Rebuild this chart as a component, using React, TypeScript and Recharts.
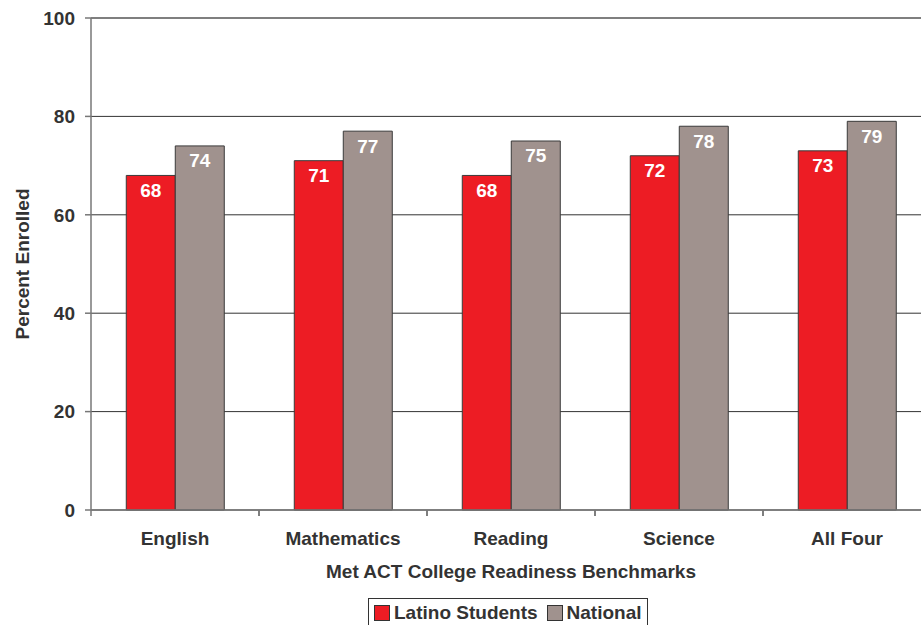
import React from 'react';
import { BarChart, Bar, XAxis, YAxis, CartesianGrid, Legend, LabelList, ReferenceLine } from 'recharts';

const categories = ['English', 'Mathematics', 'Reading', 'Science', 'All Four'];
const latinoValues = [68, 71, 68, 72, 73];
const nationalValues = [74, 77, 75, 78, 79];
const yTicks = [0, 20, 40, 60, 80, 100];

const RED = '#ED1C24';
const GRAY = '#A0928E';
const TEXT = '#333333';
const FONT = '"Liberation Sans", Arial, Helvetica, sans-serif';
const FS = 19;

const data = categories.map((name, i) => ({
  name,
  latino: latinoValues[i],
  national: nationalValues[i],
}));

// category label plus small tick marks at the band edges
const CategoryTick = (props: any) => {
  const { x, y, payload, width, visibleTicksCount } = props;
  const half = width && visibleTicksCount ? width / visibleTicksCount / 2 : 84;
  return (
    <g>
      <line x1={x - half} x2={x - half} y1={y - 8} y2={y - 2} stroke="#777" strokeWidth={1.5} />
      <line x1={x + half} x2={x + half} y1={y - 8} y2={y - 2} stroke="#777" strokeWidth={1.5} />
      <text x={x} y={y + 27} textAnchor="middle" fill={TEXT} fontSize={FS} fontWeight="bold" fontFamily={FONT}>
        {payload.value}
      </text>
    </g>
  );
};

const LegendBox = () => (
  <div
    style={{
      display: 'flex',
      alignItems: 'center',
      height: 27,
      padding: '0 5px',
      borderTop: '1px solid #333',
      borderLeft: '1px solid #333',
      borderRight: '1px solid #333',
      fontFamily: FONT,
      fontWeight: 'bold',
      fontSize: FS,
      color: TEXT,
      boxSizing: 'border-box',
      paddingTop: 2,
    }}
  >
    <span style={{ width: 14, height: 14, background: RED, border: '1px solid #333', marginRight: 4, display: 'inline-block' }} />
    <span style={{ marginRight: 9 }}>Latino Students</span>
    <span style={{ width: 14, height: 14, background: GRAY, border: '1px solid #333', marginRight: 4, display: 'inline-block' }} />
    <span>National</span>
  </div>
);

export default function App() {
  return (
    <div style={{ position: 'absolute', left: 0, top: 0, width: 921, height: 625, background: '#fff', overflow: 'hidden' }}>
      <BarChart
        width={921}
        height={625}
        data={data}
        margin={{ top: 18, right: -10, left: 0, bottom: 0 }}
        barCategoryGap="21%"
        barGap={0}
      >
        <CartesianGrid vertical={false} stroke="#333" strokeWidth={1} />
        <ReferenceLine y={100} stroke="#777" strokeWidth={1.5} />
        <XAxis
          dataKey="name"
          tick={<CategoryTick />}
          tickLine={false}
          tickSize={6}
          tickMargin={2}
          axisLine={{ stroke: '#777', strokeWidth: 1.5 }}
          height={88}
          interval={0}
          label={{
            value: 'Met ACT College Readiness Benchmarks',
            position: 'insideBottom',
            offset: 20,
            fill: TEXT,
            fontSize: FS,
            fontWeight: 'bold',
            fontFamily: FONT,
          }}
        />
        <YAxis
          domain={[0, 100]}
          ticks={yTicks}
          width={91}
          tickSize={6}
          tickMargin={10}
          tickLine={{ stroke: '#777', strokeWidth: 1.5 }}
          axisLine={{ stroke: '#777', strokeWidth: 1.5 }}
          tick={{ fill: TEXT, fontSize: FS, fontWeight: 'bold', fontFamily: FONT }}
          label={{
            value: 'Percent Enrolled',
            angle: -90,
            position: 'insideLeft',
            offset: 22,
            fill: TEXT,
            fontSize: FS,
            fontWeight: 'bold',
            fontFamily: FONT,
            style: { textAnchor: 'middle' },
          }}
        />
        <Legend
          verticalAlign="bottom"
          content={<LegendBox />}
          wrapperStyle={{ left: 368, bottom: 0, width: 'auto' }}
        />
        <Bar dataKey="latino" name="Latino Students" fill={RED} stroke="#3a3a3a" strokeWidth={1} isAnimationActive={false}>
          <LabelList dataKey="latino" position="insideTop" offset={8} fill="#fff" fontSize={FS} fontWeight="bold" fontFamily={FONT} />
        </Bar>
        <Bar dataKey="national" name="National" fill={GRAY} stroke="#3a3a3a" strokeWidth={1} isAnimationActive={false}>
          <LabelList dataKey="national" position="insideTop" offset={8} fill="#fff" fontSize={FS} fontWeight="bold" fontFamily={FONT} />
        </Bar>
      </BarChart>
    </div>
  );
}
